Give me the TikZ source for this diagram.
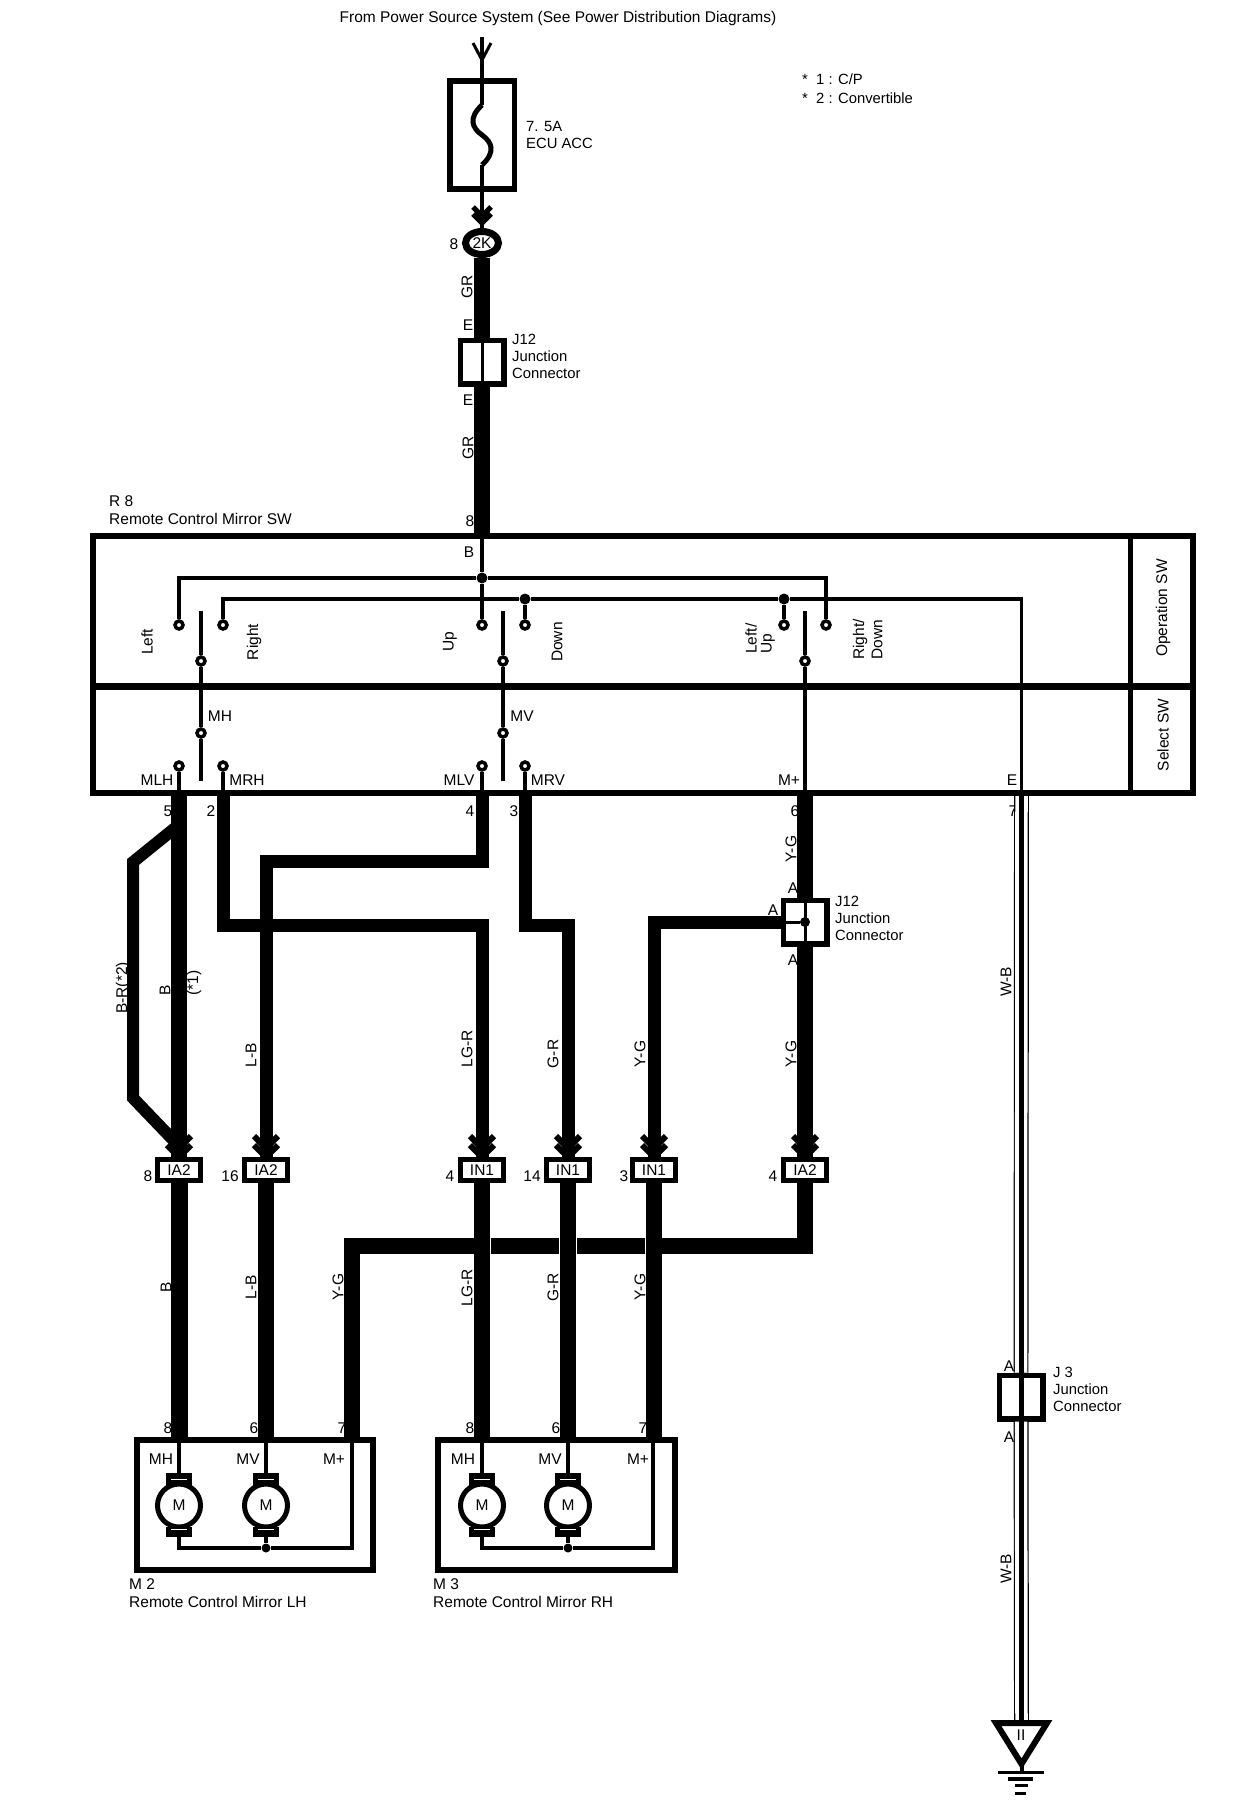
\documentclass[tikz,border=0pt]{standalone}
\usepackage{fontspec}
\setmainfont{Liberation Sans}
\usetikzlibrary{shapes.geometric}
\begin{document}
\begin{tikzpicture}[x=1pt, y=-1pt,
text node/.style={font=\fontsize{15.5}{17}\selectfont,inner sep=0pt,align=left},
note node/.style={text node,font=\fontsize{14.8}{17}\selectfont,anchor=north west},
vert node/.style={text node,rotate=90},
light wire/.style={line width=3.5},
heavy wire/.style={line width=16},
conn node/.style={rectangle,draw,line width=5.5,inner sep=0pt,font=\fontsize{15.5}{17}\selectfont},
pin node/.style={conn node,minimum width=43,minimum height=21},
junc node/.style={conn node,minimum width=43.5,minimum height=43.5},
term node/.style={circle,draw,fill=white,line width=3.5,minimum size=8,inner sep=0pt},
dot node/.style={circle,fill=black,minimum size=11,inner sep=0pt},
motor node/.style={circle,draw,line width=5,minimum size=43,inner sep=0pt,font=\fontsize{15.5}{17}\selectfont},
box node/.style={rectangle,draw,line width=5.5,inner sep=0pt,minimum height=130},
chev/.pic={\draw[line width=6] (-12,-20) -- (0,-8) -- (12,-20);\draw[line width=6] (-12,-11) -- (0,1) -- (12,-11);},
brush/.pic={\fill (-13,-32.5) rectangle (13,-20);\fill (-13,21) rectangle (13,31.5);\draw[white,line width=1.5] (-8,-26) -- (8,-26);\draw[white,line width=1.5] (-8,24) -- (8,24);}]
\useasboundingbox (0,0) rectangle (1248,1804);
\begin{scope}[every node/.style={text node}]
\node [text node](t1) at (558,18.5) {From Power Source System (See Power Distribution Diagrams)};
\node [note node](t2) at (802,74) {*\ \ 1 : C/P\\[2pt]*\ \ 2 : Convertible};
\node [note node](t3) at (526,121) {7. 5A\\ECU ACC};
\node [note node](t4) at (512,334) {J12\\Junction\\Connector};
\node [text node,anchor=north west](t5) at (109,495) {R 8\\[1pt]Remote Control Mirror SW};
\node [note node](t6) at (835,896) {J12\\Junction\\Connector};
\node [note node](t7) at (1053,1367) {J 3\\Junction\\Connector};
\node [text node,anchor=north west](t8) at (129,1578) {M 2\\[1pt]Remote Control Mirror LH};
\node [text node,anchor=north west](t9) at (433,1578) {M 3\\[1pt]Remote Control Mirror RH};
\end{scope}
\node [text node](n1) at (454,244) {8};
\node [text node](n2) at (468,325) {E};
\node [text node](n3) at (468,400) {E};
\node [text node](n4) at (470,521) {8};
\node [text node](n5) at (469,552) {B};
\node [text node](n6) at (220,716) {MH};
\node [text node](n7) at (522,716) {MV};
\node [text node](n8) at (157,780) {MLH};
\node [text node](n9) at (247,780) {MRH};
\node [text node](n10) at (459,780) {MLV};
\node [text node](n11) at (548,780) {MRV};
\node [text node](n12) at (789,780) {M+};
\node [text node](n13) at (1012,780) {E};
\node [text node](n14) at (168,811) {5};
\node [text node](n15) at (211,811) {2};
\node [text node](n16) at (470,811) {4};
\node [text node](n17) at (514,811) {3};
\node [text node](n18) at (795,811) {6};
\node [text node](n19) at (1013,811) {7};
\node [text node](n20) at (793,888) {A};
\node [text node](n21) at (773,910) {A};
\node [text node](n22) at (793,960) {A};
\node [text node](n23) at (148,1176) {8};
\node [text node](n24) at (230,1176) {16};
\node [text node](n25) at (450,1176) {4};
\node [text node](n26) at (532,1176) {14};
\node [text node](n27) at (624,1176) {3};
\node [text node](n28) at (773,1176) {4};
\node [text node](n29) at (168,1428) {8};
\node [text node](n30) at (254,1428) {6};
\node [text node](n31) at (342,1428) {7};
\node [text node](n32) at (470,1428) {8};
\node [text node](n33) at (556,1428) {6};
\node [text node](n34) at (643,1428) {7};
\node [text node](n35) at (161,1459) {MH};
\node [text node](n36) at (248,1459) {MV};
\node [text node](n37) at (334,1459) {M+};
\node [text node](n38) at (463,1459) {MH};
\node [text node](n39) at (550,1459) {MV};
\node [text node](n40) at (638,1459) {M+};
\node [text node](n41) at (1009,1366) {A};
\node [text node](n42) at (1009,1437) {A};
\node [text node](n43) at (1021,1735) {II};
\node [vert node](w1) at (467,287) {GR};
\node [vert node](w2) at (468,448) {GR};
\node [vert node](w3) at (147,642) {Left};
\node [vert node](w4) at (254,642) {Right};
\node [vert node](w5) at (450,642) {Up};
\node [vert node](w6) at (557,642) {Down};
\node [vert node,anchor=west](w7) at (751,654) {Left/};
\node [vert node,anchor=west](w8) at (768,654) {Up};
\node [vert node,anchor=west](w9) at (860,660) {Right/};
\node [vert node,anchor=west](w10) at (877,660) {Down};
\node [vert node](w11) at (1163,608) {Operation SW};
\node [vert node](w12) at (1163,735) {Select SW};
\node [vert node](w13) at (791,849) {Y-G};
\node [vert node](w14) at (123,988) {B-R(*2)};
\node [vert node](w15) at (165,990) {B};
\node [vert node](w16) at (194,983) {(*1)};
\node [vert node](w17) at (251,1055) {L-B};
\node [vert node](w18) at (467,1049) {LG-R};
\node [vert node](w19) at (553,1054) {G-R};
\node [vert node](w20) at (640,1054) {Y-G};
\node [vert node](w21) at (791,1054) {Y-G};
\node [vert node](w22) at (1006,982) {W-B};
\node [vert node](w23) at (166,1287) {B};
\node [vert node](w24) at (251,1287) {L-B};
\node [vert node](w25) at (338,1287) {Y-G};
\node [vert node](w26) at (467,1288) {LG-R};
\node [vert node](w27) at (553,1287) {G-R};
\node [vert node](w28) at (640,1287) {Y-G};
\node [vert node](w29) at (1006,1569) {W-B};

\node [conn node,minimum width=64.5,minimum height=108](f1) at (482,135) {};
\node [ellipse,draw,line width=7,minimum width=33,minimum height=23,inner sep=0pt,font=\fontsize{15.5}{17}\selectfont](c1) at (482,243) {2K};
\node [junc node](j1) at (482,362) {};
\node [junc node](j2) at (805,922) {};
\node [junc node](j3) at (1021,1397) {};
\node [rectangle,draw,line width=6,inner sep=0pt,minimum width=1099.5,minimum height=257](sw) at (642.75,664.5) {};
\node [pin node](p1) at (179,1170) {IA2};
\node [pin node](p2) at (266,1170) {IA2};
\node [pin node](p3) at (482,1170) {IN1};
\node [pin node](p4) at (568,1170) {IN1};
\node [pin node](p5) at (654,1170) {IN1};
\node [pin node](p6) at (805,1170) {IA2};
\node [box node,minimum width=236](b1) at (255,1505) {};
\node [box node,minimum width=237](b2) at (556.5,1505) {};
\node [motor node](m1) at (179,1505.5) {M};
\node [motor node](m2) at (266,1505.5) {M};
\node [motor node](m3) at (482,1505.5) {M};
\node [motor node](m4) at (568,1505.5) {M};

\node [dot node](d1) at (482,578) {};
\node [dot node](d2) at (525,599) {};
\node [dot node](d3) at (784,599) {};
\node [dot node,minimum size=10](d4) at (805,922) {};
\node [dot node,minimum size=9](d5) at (266,1548) {};
\node [dot node,minimum size=9](d6) at (568,1548) {};
\node [term node](s1) at (179,625) {};
\node [term node](s2) at (223,625) {};
\node [term node](s3) at (482,625) {};
\node [term node](s4) at (525,625) {};
\node [term node](s5) at (784,625) {};
\node [term node](s6) at (826,625) {};
\node [term node](s7) at (201,661) {};
\node [term node](s8) at (201,733) {};
\node [term node](s9) at (503,661) {};
\node [term node](s10) at (503,733) {};
\node [term node](s11) at (805,661) {};
\node [term node](s12) at (179,766) {};
\node [term node](s13) at (223,766) {};
\node [term node](s14) at (482,766) {};
\node [term node](s15) at (525,766) {};
\coordinate (a0) at (482,37);
\coordinate (a1) at (482,105);
\coordinate (a2) at (482,165);
\coordinate (e0) at (1021.5,599);
\coordinate (e1) at (1021.5,796);
\coordinate (e2) at (1021.5,1722);
\coordinate (v1) at (93,686);
\coordinate (v2) at (1130,536);
\coordinate (u1) at (201,611);
\coordinate (u2) at (201,781);
\coordinate (u3) at (503,611);
\coordinate (u4) at (503,781);
\coordinate (u5) at (805,611);
\coordinate (h1) at (482,925);
\coordinate (h2) at (266,861);
\coordinate (h3) at (568,925);
\coordinate (h4) at (654,922);
\coordinate (h5) at (805,1246);
\coordinate (h6) at (352,1246);
\coordinate (h7) at (653,1440);
\coordinate (r1) at (175,828);
\coordinate (r2) at (133,862);
\coordinate (r3) at (133,1098);
\coordinate (r4) at (179,1146);
\coordinate (g1) at (996,1723);
\coordinate (g2) at (1047,1723);
\coordinate (g3) at (1021.5,1764);
\coordinate (g4) at (1021.5,1772);

\draw [light wire](a0) -- (f1.north);
\draw [line width=3](473,43) -- (482,60) -- (491,43);
\draw [light wire](f1.north) -- (a1);
\draw [light wire](a2) -- (f1.south);
\draw [line width=5](a1) .. controls (468,118) and (472,128) .. (482,135) .. controls (492,142) and (496,152) .. (a2);
\draw [light wire](f1.south) -- (c1);
\draw [line width=5](473,207) -- (482,216) -- (491,207);
\draw [line width=5](473,214) -- (482,223) -- (491,214);
\path [heavy wire,draw](c1) -- (j1);
\path [heavy wire,draw](j1) -- (j1 |- sw.north);
\draw [line width=3](j1.north) -- (j1.south);

\draw [line width=7](v1) -- (v1 -| sw.east);
\draw [line width=5](v2) -- (v2 |- sw.south);
\draw [light wire](j1 |- sw.north) -- (d1);
\draw [light wire](d1) -- (s3);
\draw [light wire](s1) |- (d1);
\draw [light wire](s6) |- (d1);
\draw [light wire](s2) |- (d2);
\draw [light wire](d2) -- (d3);
\draw [light wire](d2) -- (s4);
\draw [light wire](d3) -- (s5);
\draw [light wire](d3) -- (e0) -- (e1);
\draw [line width=4](u1) -- (s7);
\draw [light wire](s7) -- (s8);
\draw [line width=4](s8) -- (u2);
\draw [line width=4.5](u3) -- (s9);
\draw [light wire](s9) -- (s10);
\draw [line width=4.5](s10) -- (u4);
\draw [line width=4.5](u5) -- (s11);
\draw [light wire](s11) -- (s11 |- sw.south);
\draw [light wire](s12) -- (s12 |- sw.south);
\draw [light wire](s13) -- (s13 |- sw.south);
\draw [light wire](s14) -- (s14 |- sw.south);
\draw [light wire](s15) -- (s15 |- sw.south);

\draw [line width=12](r1) -- (r2) -- (r3) -- (r4);
\draw [line width=16](s12 |- sw.south) -- (p1);
\draw [line width=13](s13 |- sw.south) |- (h1) -- (p3);
\draw [line width=13](s14 |- sw.south) |- (h2) -- (p2);
\draw [line width=13](s15 |- sw.south) |- (h3) -- (p4);
\draw [line width=13](j2) -| (p5);
\path [heavy wire,draw](s11 |- sw.south) -- (j2);
\path [heavy wire,draw](j2) -- (p6);
\draw [line width=3](j2.north) -- (j2.south);
\draw [line width=3](j2.west) -- (d4);
\pic at (179,1156) {chev};
\pic at (266,1156) {chev};
\pic at (482,1156) {chev};
\pic at (568,1156) {chev};
\pic at (654,1156) {chev};
\pic at (805,1156) {chev};

\draw [heavy wire](p6) -- (h5) -- (h6) -- (h6 |- b1.north);
\draw [white,line width=1.2](490.5,1238) -- (490.5,1254);
\draw [white,line width=1.2](559.5,1238) -- (559.5,1254);
\draw [white,line width=1.2](576.5,1238) -- (576.5,1254);
\draw [white,line width=1.2](645.5,1238) -- (645.5,1254);
\draw [line width=17](p1) -- (p1 |- b1.north);
\path [heavy wire,draw](p2) -- (p2 |- b1.north);
\path [heavy wire,draw](p3) -- (p3 |- b2.north);
\path [heavy wire,draw](p4) -- (p4 |- b2.north);
\path [heavy wire,draw](p5) -- (p5 |- b2.north);

\draw [light wire](m1 |- b1.north) -- (m1);
\draw [light wire](m2 |- b1.north) -- (m2);
\draw [light wire](m3 |- b2.north) -- (m3);
\draw [light wire](m4 |- b2.north) -- (m4);
\draw [light wire](m1) |- (d5);
\draw [light wire](m2) -- (d5);
\draw [light wire](h6 |- b1.north) |- (d5);
\draw [light wire](m3) |- (d6);
\draw [light wire](m4) -- (d6);
\draw [light wire](h7) |- (d6);
\pic at (m1) {brush};
\pic at (m2) {brush};
\pic at (m3) {brush};
\pic at (m4) {brush};

\draw [line width=1.2,double=white,double distance=12.5](j3) -- (e2);
\draw [line width=1.2,double=white,double distance=12.5](e1) -- (j3);
\draw [line width=4.5](e1) -- (e2);
\draw [line width=6,line join=miter](g1) -- (g2) -- (g3) -- cycle;
\draw [line width=4](g3) -- (g4);
\draw [line width=3](998,1772) -- (1044,1772);
\draw [line width=4](1008,1779) -- (1033,1779);
\draw [line width=3](1015,1785) -- (1028,1785);
\draw [line width=3](1015,1793) -- (1026,1793);
\end{tikzpicture}
\end{document}
